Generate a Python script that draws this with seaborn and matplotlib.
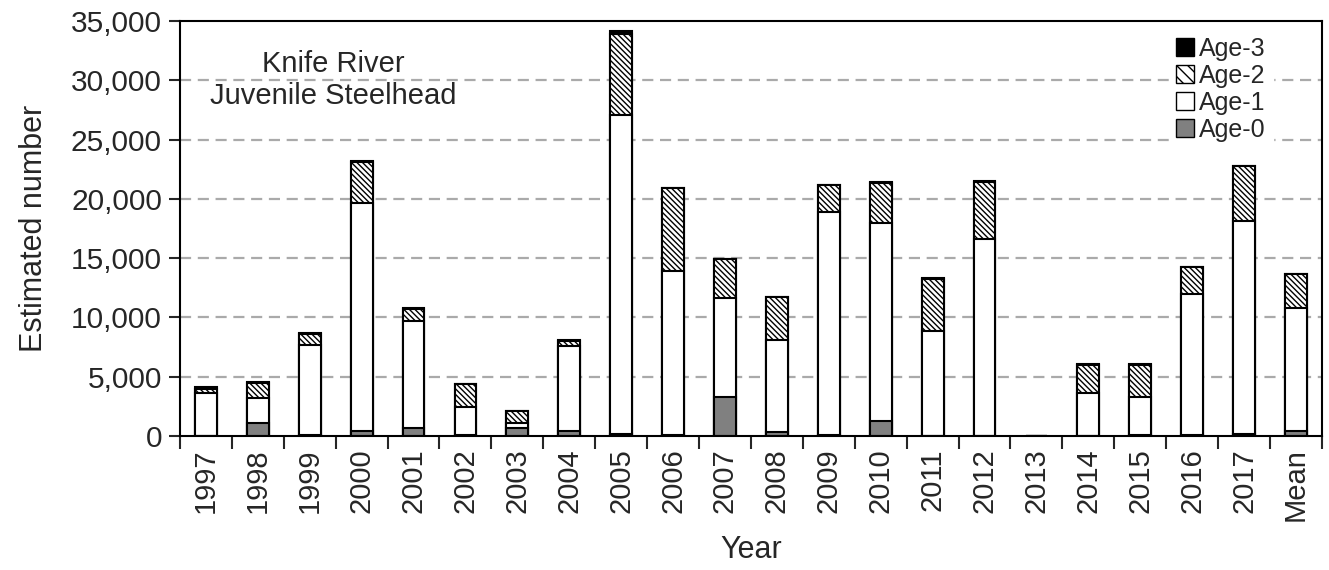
import numpy as np
import pandas as pd
import matplotlib.pyplot as plt
import seaborn as sns
from matplotlib.patches import Patch

sns.set_style("ticks")
plt.rcParams['font.family'] = ['Liberation Sans', 'DejaVu Sans']
plt.rcParams['hatch.linewidth'] = 1.0

# 数据
years = ["1997", "1998", "1999", "2000", "2001", "2002", "2003", "2004", "2005", "2006", "2007",
         "2008", "2009", "2010", "2011", "2012", "2013", "2014", "2015", "2016", "2017", "Mean"]
age0 = [0, 1100, 100, 420, 700, 50, 700, 400, 200, 100, 3300,
        300, 100, 1300, 0, 0, 0, 0, 100, 100, 150, 400]
age1 = [3650, 2100, 7570, 19230, 9000, 2400, 420, 7200, 26860, 13800, 8350,
        7800, 18800, 16700, 8850, 16600, 0, 3600, 3200, 11850, 17950, 10400]
age2 = [350, 1300, 950, 3500, 1050, 1900, 980, 450, 6880, 7000, 3250,
        3600, 2250, 3350, 4400, 4800, 0, 2400, 2700, 2300, 4650, 2850]
age3 = [100, 50, 50, 30, 50, 30, 50, 50, 200, 0, 0,
        0, 50, 50, 50, 150, 0, 50, 50, 50, 50, 50]

df = pd.DataFrame({"year": years, "a0": age0, "a1": age1, "a2": age2, "a3": age3})
df["c0"] = df["a0"]
df["c1"] = df["c0"] + df["a1"]
df["c2"] = df["c1"] + df["a2"]
df["c3"] = df["c2"] + df["a3"]

fig, ax = plt.subplots(figsize=(13.29, 5.70), dpi=100)
fig.subplots_adjust(left=0.1354, right=0.9947, bottom=0.235, top=0.963)

hatch = "\\\\\\\\\\\\"
layers = [("c3", "black", None), ("c2", "white", hatch), ("c1", "white", None), ("c0", "#808080", None)]
for col, colr, h in layers:
    sns.barplot(data=df, x="year", y=col, order=years, color=colr, saturation=1,
                edgecolor="black", linewidth=1.5, width=0.42, hatch=h,
                errorbar=None, ax=ax)

ax.set_ylim(0, 35000)
ax.set_xlim(-0.5, len(years) - 0.5)
ax.set_yticks(np.arange(0, 35001, 5000))
ax.set_yticklabels([f"{v:,}" for v in range(0, 35001, 5000)], fontsize=21.5)
ax.set_xticks(np.arange(len(years)))
ax.set_xticklabels(years, rotation=90, fontsize=21)
ax.tick_params(axis="x", which="major", length=0, pad=9)
ax.set_xticks(np.arange(-0.5, len(years), 1), minor=True)
ax.tick_params(axis="x", which="minor", length=9, width=1.5, direction="out")
ax.tick_params(axis="y", length=8, width=1.5, direction="out", pad=5)

for v in range(5000, 35000, 5000):
    ax.axhline(v, color="#aaaaaa", lw=1.6, ls=(0, (5, 3)), zorder=0)
ax.set_axisbelow(True)

for s in ax.spines.values():
    s.set_visible(True)
    s.set_linewidth(1.5)
    s.set_color("black")

ax.set_xlabel("Year", fontsize=22, labelpad=10)
ax.set_ylabel("Estimated number", fontsize=22, labelpad=16)

ax.text(0.134, 0.858, "Knife River\nJuvenile Steelhead", transform=ax.transAxes,
        ha="center", va="center", fontsize=21, linespacing=1.2)

handles = [Patch(facecolor="black", edgecolor="black", label="Age-3"),
           Patch(facecolor="white", edgecolor="black", hatch="\\\\\\", label="Age-2"),
           Patch(facecolor="white", edgecolor="black", label="Age-1"),
           Patch(facecolor="#808080", edgecolor="black", label="Age-0")]
leg = ax.legend(handles=handles, loc="upper right", bbox_to_anchor=(0.968, 1.01), fontsize=18,
                handlelength=0.7, handleheight=0.7, handletextpad=0.2, labelspacing=0.12,
                frameon=True, framealpha=1, facecolor="white", edgecolor="white",
                borderpad=0.3, fancybox=False)

fig.savefig("out.png", dpi=100)
